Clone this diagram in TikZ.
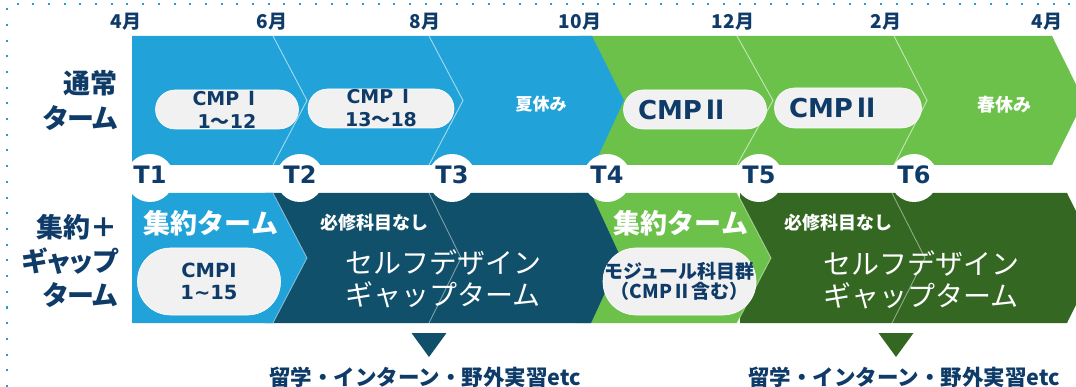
\documentclass[tikz,border=0pt]{standalone}
\usepackage{fontspec}
\setmainfont{Noto Sans CJK JP}
\newfontfamily\jpp{Noto Sans CJK JP}[RawFeature=+palt]
\newfontfamily\lat{DejaVu Sans}
\definecolor{lblue}{HTML}{21A2D8}
\definecolor{lgreen}{HTML}{6CC14B}
\definecolor{teal2}{HTML}{11506A}
\definecolor{dgreen}{HTML}{346822}
\definecolor{navy}{HTML}{0F3B68}
\definecolor{pillgray}{HTML}{F1F1F1}
\definecolor{dotcol}{HTML}{1EA0D6}
\tikzset{
  sep/.style={draw=white, draw opacity=0.6, line width=0.9pt},
  pill/.style={fill=pillgray, draw=white, line width=0.6pt, inner sep=0pt, text=navy, align=center},
  month/.style={text=navy, font=\fontsize{19}{22}\selectfont\bfseries, inner sep=0pt},
  tlab/.style={text=navy, font=\lat\fontsize{24}{26}\selectfont\bfseries, inner sep=0pt},
  tcirc/.style={circle, fill=white, minimum size=48pt, inner sep=0pt},
  rowlab/.style={text=navy, align=right, anchor=east, inner sep=0pt},
  wtext/.style={text=white, inner sep=0pt, align=center},
}
\begin{document}
\begin{tikzpicture}[x=1pt,y=-1pt]
\useasboundingbox (0,0) rectangle (1076,387);
% dotted frame
\draw[dotcol, line width=2pt, dash pattern=on 2pt off 13.7pt] (7,387) -- (7,4) -- (1076,4);

% ---------- top row ----------
\fill[lgreen] (580,36) -- (1052,36) -- (1084,100.5) -- (1052,165) -- (580,165) -- cycle;
\fill[lblue] (132,36) -- (592,36) -- (624,100.5) -- (594,165) -- (132,165) -- cycle;
\draw[sep] (273,36) -- (307,100.5) -- (273,165);
\draw[sep] (429,36) -- (463,100.5) -- (429,165);
\draw[sep] (737,36) -- (773,100.5) -- (737,165);
\draw[sep] (894,36) -- (927,100.5) -- (894,165);

% ---------- bottom row ----------
\fill[dgreen] (740,193) -- (1067,193) -- (1099,258) -- (1067,323) -- (740,323) -- cycle;
\fill[lgreen] (575,193) -- (737,193) -- (771,258) -- (737,323) -- (575,323) -- cycle;
\fill[teal2] (265,193) -- (591,193) -- (621,258) -- (591,323) -- (265,323) -- cycle;
\fill[lblue] (132,193) -- (273,193) -- (307,258) -- (273,323) -- (132,323) -- cycle;
\draw[sep, draw opacity=0.45] (273,193) -- (307,258) -- (273,323);
\draw[sep, draw opacity=0.45] (737,193) -- (771,258) -- (737,323);
\draw[sep, draw opacity=0.45] (429,193) -- (461,258) -- (429,323);
\draw[sep, draw opacity=0.45] (892,193) -- (925,258) -- (892,323);

% ---------- month labels ----------
\node[month] (m4a) at (126,22) {4月};
\node[month] (m6) at (272,22) {6月};
\node[month] (m8) at (425,22) {8月};
\node[month] (m10) at (580,22) {10月};
\node[month] (m12) at (733,22) {12月};
\node[month] (m2) at (886,22) {2月};
\node[month] (m4b) at (1047,22) {4月};

% ---------- row labels ----------
\node[rowlab, font=\jpp\fontsize{27}{35}\selectfont\bfseries] (lab1) at (118,100.5) {通常\\ターム};
\node[rowlab, font=\jpp\fontsize{27}{34}\selectfont\bfseries] (lab2) at (118,261) {集約＋\\ギャップ\\ターム};

% ---------- top row pills ----------
\node[pill, minimum width=143pt, minimum height=39pt, rounded corners=19.5pt,
      font=\fontsize{19}{23}\selectfont\bfseries] (p1) at (227,109.5) {{\lat CMP}\,Ⅰ\\{\lat 1}〜{\lat 12}};
\node[pill, minimum width=146pt, minimum height=39pt, rounded corners=19.5pt,
      font=\fontsize{19}{23}\selectfont\bfseries] (p2) at (381,108.5) {{\lat CMP}\,Ⅰ\\{\lat 13}〜{\lat 18}};
\node[pill, minimum width=143pt, minimum height=39pt, rounded corners=19.5pt,
      font=\fontsize{26}{30}\selectfont\bfseries] (p3) at (695,109.5) {{\lat CMP}Ⅱ\hspace*{24pt}};
\node[pill, minimum width=147pt, minimum height=40pt, rounded corners=20pt,
      font=\fontsize{26}{30}\selectfont\bfseries] (p4) at (848,108) {{\lat CMP}Ⅱ\hspace*{28pt}};
\node[wtext, font=\fontsize{17}{20}\selectfont\bfseries] (natsu) at (541,104) {夏休み};
\node[wtext, font=\fontsize{18}{20}\selectfont\bfseries] (haru) at (1004,105) {春休み};

% ---------- bottom row contents ----------
\node[wtext, font=\fontsize{27}{30}\selectfont\bfseries] (shu1) at (211,223) {集約ターム};
\node[pill, minimum width=143pt, minimum height=67pt, rounded corners=33pt,
      font=\lat\fontsize{19.5}{22}\selectfont\bfseries] (p5) at (209,281.5) {CMPI\\1\textasciitilde 15};
\node[wtext, font=\fontsize{18}{20}\selectfont\bfseries] (hi1) at (374,223) {必修科目なし};
\node[wtext, font=\fontsize{28}{32}\selectfont] (self1) at (443,279) {セルフデザイン\\ギャップターム};

\node[wtext, font=\fontsize{27}{30}\selectfont\bfseries] (shu2) at (681,223) {集約ターム};
\node[pill, minimum width=153pt, minimum height=67pt, rounded corners=33pt,
      font=\fontsize{19}{20}\selectfont\bfseries] (p6) at (679.5,281.5) {モジュール科目群\\（CMPⅡ含む）};
\node[wtext, font=\fontsize{18}{20}\selectfont\bfseries] (hi2) at (838,223) {必修科目なし};
\node[wtext, font=\fontsize{28}{32}\selectfont] (self2) at (921,280) {セルフデザイン\\ギャップターム};

% ---------- T markers ----------
\foreach \x/\n in {150/1,300/2,452/3,607/4,759/5,914/6}{
  \node[tcirc] (c\n) at (\x,178) {};
  \node[tlab] (t\n) at (\x,175) {T\n};
}

% ---------- arrows down & notes ----------
\fill[teal2] (411.5,333) -- (446.5,333) -- (429,357) -- cycle;
\fill[dgreen] (878.5,333) -- (913.5,333) -- (896,357) -- cycle;
\node[text=navy, font=\fontsize{21.5}{24}\selectfont\bfseries, inner sep=0pt] (note1) at (425,377) {留学・インターン・野外実習etc};
\node[text=navy, font=\fontsize{21.5}{24}\selectfont\bfseries, inner sep=0pt] (note2) at (904,377) {留学・インターン・野外実習etc};
\end{tikzpicture}
\end{document}
